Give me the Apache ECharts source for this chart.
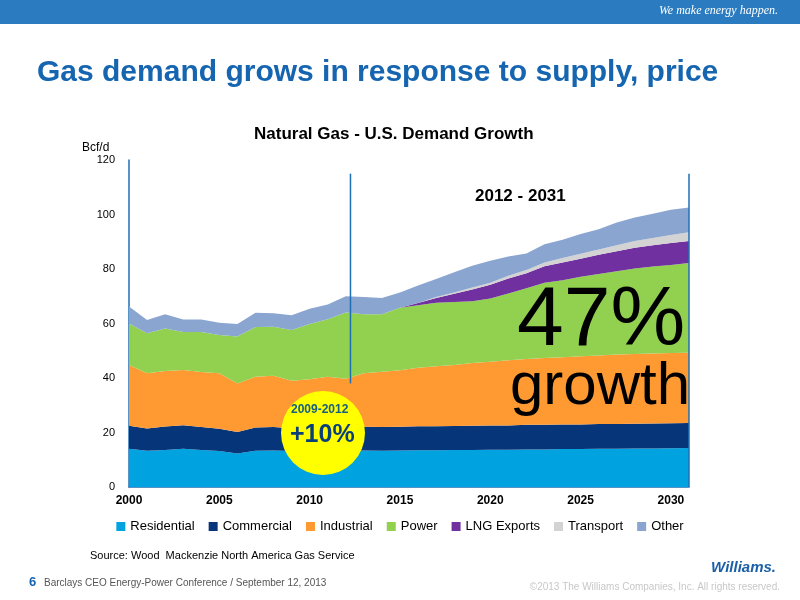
<!DOCTYPE html>
<html><head><meta charset="utf-8">
<script src="https://cdn.jsdelivr.net/npm/echarts@6/dist/echarts.min.js"></script>
<style>html,body{margin:0;padding:0;background:#fff}#c{width:800px;height:600px}</style>
</head><body><div id="c"></div>
<script>
const years = [];for(let y=2000;y<=2031;y++)years.push(String(y));
const residential=[14,13.3,13.6,14,13.6,13.2,12.3,13.3,13.4,13.2,13.5,13.0,13.2,13.4,13.3,13.4,13.5,13.5,13.6,13.6,13.7,13.7,13.8,13.8,13.9,13.9,14.0,14.0,14.1,14.1,14.2,14.3];
const commercial=[8.5,8.2,8.6,8.7,8.4,8.2,7.9,8.5,8.6,8.4,8.6,8.7,8.6,8.7,8.7,8.7,8.8,8.8,8.8,8.9,8.9,8.9,9,9,9,9,9.1,9.1,9.1,9.2,9.2,9.2];
const industrial=[22.3,20.2,20.4,20.2,20.2,20.3,17.8,18.7,18.8,17.4,17.4,18.8,17.9,19.6,20.3,20.7,21.5,22.0,22.4,23.0,23.4,23.9,24.2,24.5,24.7,25.1,25.2,25.5,25.6,25.7,25.8,25.8];
const power=[15.2,14.7,15.6,14.0,14.7,14.1,17.2,18.2,18.0,18.6,20.3,21.1,24.3,21.7,21.1,23.0,22.9,23.3,23.1,22.7,23.2,24.5,25.9,27.7,28.3,29.2,29.9,30.6,31.4,31.9,32.3,32.9];
const lng=[0,0,0,0,0,0,0,0,0,0,0,0,0,0,0,0,0.8,1.8,3,4.3,5,5.5,5.5,6,6.5,6.6,7,7.3,7.6,7.8,8,8.1];
const transport=[0,0,0,0,0,0,0,0,0,0,0,0,0,0,0,0,0,0.3,0.5,0.7,0.8,1.0,1.2,1.4,1.6,1.8,2.0,2.2,2.5,2.7,3.0,3.2];
const other=[6.2,4.9,5.2,4.6,4.6,4.5,4.6,5.2,5.0,5.4,5.6,5.4,6,6.3,6.0,5.6,6.4,6.6,7.4,8.0,8.0,7.1,6.1,6.7,6.7,7.2,7.4,8.4,8.6,8.9,9.2,9.1];
const names=['Residential','Commercial','Industrial','Power','LNG Exports','Transport','Other'];
const colors=['#00a3e0','#06357a','#ff9a33','#92d050','#7030a0','#d3d3d3','#8ba5d1'];
const data=[residential,commercial,industrial,power,lng,transport,other];
const blue='#1f6fb5';
const series=data.map((d,i)=>({name:names[i],type:'line',stack:'t',symbol:'none',lineStyle:{width:0},
  areaStyle:{color:colors[i],opacity:1},itemStyle:{color:colors[i]},data:d}));
series[6].markLine={silent:true,symbol:'none',label:{show:false},lineStyle:{color:blue,width:1.5,type:'solid'},
  data:[[{coord:['2031',0]},{coord:['2031',115]}]]};
const chart=echarts.init(document.getElementById('c'));
const G=(o)=>Object.assign({z:100},o);
chart.setOption({
  animation:false,
  grid:{left:129,right:111,top:160,bottom:113},
  xAxis:{type:'category',data:years,boundaryGap:false,
    axisLine:{lineStyle:{color:blue,width:1.5}},axisTick:{show:false},splitLine:{show:false},
    axisLabel:{interval:(i,v)=>(+v)%5===0,color:'#000',fontWeight:'bold',fontSize:12,fontFamily:'Liberation Sans',margin:8}},
  yAxis:{type:'value',min:0,max:120,interval:20,
    axisLine:{show:true,lineStyle:{color:blue,width:1.5}},axisTick:{show:false},splitLine:{show:false},
    axisLabel:{color:'#000',fontSize:11,fontFamily:'Liberation Sans',margin:14}},
  legend:{bottom:62,left:'center',itemWidth:9,itemHeight:9,itemGap:14,icon:'rect',
    textStyle:{fontSize:13,fontFamily:'Liberation Sans',color:'#000'},data:names},
  series:series,
  graphic:[
    {type:'rect',shape:{x:0,y:0,width:800,height:24},style:{fill:'#2a7bbf'}},
    {type:'text',right:22,top:5,style:{text:'We make energy happen.',fill:'#fff',font:'italic 12px "Liberation Serif"'}},
    {type:'text',left:37,top:58,style:{text:'Gas demand grows in response to supply, price',fill:'#1565b0',font:'bold 30px "Liberation Sans"'}},
    {type:'text',left:400-146,top:126,style:{text:'Natural Gas - U.S. Demand Growth',fill:'#000',font:'bold 17px "Liberation Sans"'}},
    {type:'text',left:82,top:142,style:{text:'Bcf/d',fill:'#000',font:'12px "Liberation Sans"'}},
    G({type:'text',left:475,top:188,style:{text:'2012 - 2031',fill:'#000',font:'bold 17px "Liberation Sans"'}}),
    G({type:'text',left:517,top:280,style:{text:'47%',fill:'#000',font:'84px "Liberation Sans"'}}),
    G({type:'text',left:510,top:357,style:{text:'growth',fill:'#000',font:'60px "Liberation Sans"'}}),
    G({type:'circle',shape:{cx:323,cy:433,r:42},style:{fill:'#ffff00'}}),
    G({type:'text',left:291,top:404,style:{text:'2009-2012',fill:'#16607e',font:'bold 12px "Liberation Sans"'}}),
    G({type:'text',left:290,top:423,style:{text:'+10%',fill:'#0a3f7a',font:'bold 25px "Liberation Sans"'}}),
    {type:'text',left:90,top:550,style:{text:'Source: Wood  Mackenzie North America Gas Service',fill:'#000',font:'11px "Liberation Sans"'}},
    {type:'text',left:29,top:576,style:{text:'6',fill:'#1565b0',font:'bold 13px "Liberation Sans"'}},
    {type:'text',left:44,top:578,style:{text:'Barclays CEO Energy-Power Conference / September 12, 2013',fill:'#555',font:'10px "Liberation Sans"'}},
    {type:'text',right:20,top:582,style:{text:'©2013 The Williams Companies, Inc. All rights reserved.',fill:'#c8c8c8',font:'10px "Liberation Sans"'}},
    {type:'text',right:24,top:560,style:{text:'Williams.',fill:'#1a5fa8',font:'italic bold 15px "Liberation Sans"'}}
  ]
});
// divider at mid-2012, positioned through the axis scales
const p12=chart.convertToPixel({gridIndex:0},['2012',38]);
const p13=chart.convertToPixel({gridIndex:0},['2013',115]);
const xm=p12[0]+0.26*(p13[0]-p12[0]);
chart.setOption({graphic:[{id:'div',type:'line',z:50,shape:{x1:xm,y1:p12[1],x2:xm,y2:p13[1]},style:{stroke:blue,lineWidth:1.5}}]});
</script></body></html>
